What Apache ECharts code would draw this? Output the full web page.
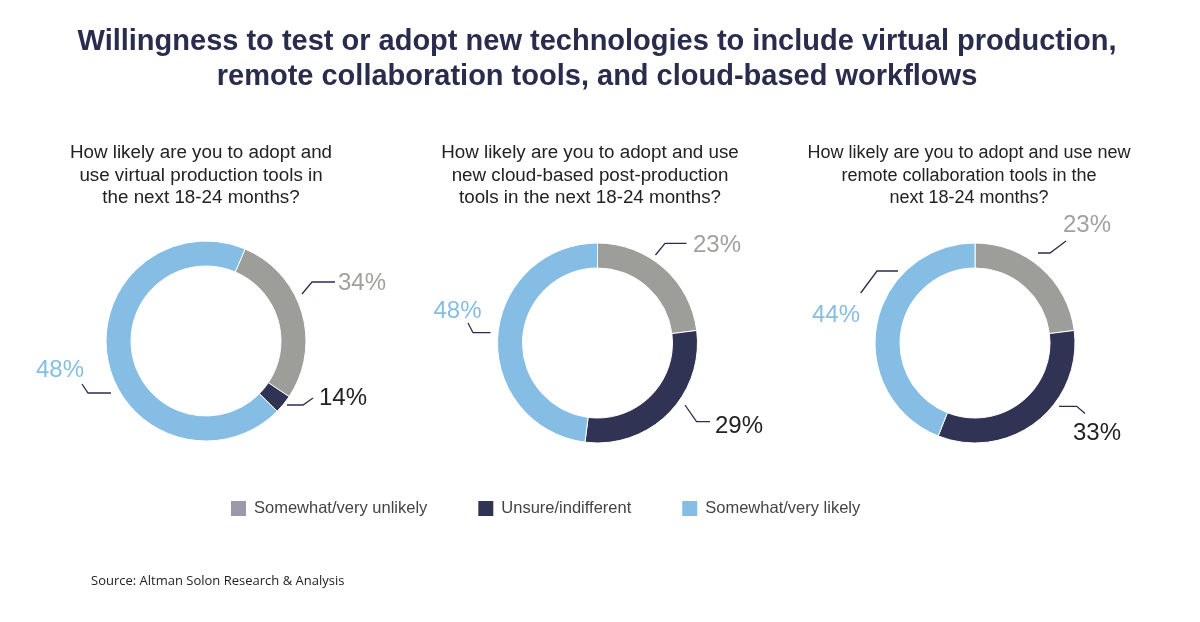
<!DOCTYPE html>
<html>
<head>
<meta charset="utf-8">
<script src="https://cdn.jsdelivr.net/npm/echarts@6/dist/echarts.min.js"></script>
<style>
  html, body { margin: 0; padding: 0; background: #ffffff; }
  #chart { width: 1200px; height: 622px; }
</style>
</head>
<body>
<div id="chart"></div>
<script>
// ---- Data ----
const categories = ['Somewhat/very unlikely', 'Unsure/indifferent', 'Somewhat/very likely'];
// Printed percentage labels
const virtualLabels = [34, 14, 48];
const cloudLabels = [23, 29, 48];
const remoteLabels = [23, 33, 44];
// Arc sizes as drawn in the picture (the first donut's drawn arcs differ from its printed labels)
const virtualArcs = [28, 3, 69];
const cloudArcs = [23, 29, 48];
const remoteArcs = [23, 33, 44];
const questions = [
  'How likely are you to adopt and\nuse virtual production tools in\nthe next 18-24 months?',
  'How likely are you to adopt and use\nnew cloud-based post-production\ntools in the next 18-24 months?',
  'How likely are you to adopt and use new\nremote collaboration tools in the\nnext 18-24 months?'
];
const titleText = 'Willingness to test or adopt new technologies to include virtual production,\nremote collaboration tools, and cloud-based workflows';
const sourceText = 'Source: Altman Solon Research & Analysis';

// ---- Styling ----
const sliceColors = ['#9d9d99', '#313354', '#86bde4'];
const legendColors = ['#9a9aa8', '#313354', '#86bde4'];
const labelColors = ['#a0a09c', '#222222', '#86bde4'];
const centers = [[206, 341], [597.5, 343], [975, 343]];
const startAngles = [67, 90, 90];

// label placement relative to each donut centre: line points and text anchor
const labelPlacement = [
  [
    { line: [[96, -47], [106, -59], [129, -59]], at: [132, -58], align: 'left' },
    { line: [[81, 64], [97, 64], [107, 57]], at: [113, 57], align: 'left' },
    { line: [[-95, 52], [-118, 52], [-124, 43]], at: [-122, 29], align: 'right' }
  ],
  [
    { line: [[58, -88], [67.5, -99.7], [89, -99.7]], at: [95.5, -98], align: 'left' },
    { line: [[87.5, 62], [99, 78.7], [112.5, 78.7]], at: [117.5, 83.7], align: 'left' },
    { line: [[-107, -10.3], [-124.5, -10.3], [-129.5, -20]], at: [-116, -31.3], align: 'right' }
  ],
  [
    { line: [[63, -90], [75, -90], [91, -102]], at: [88, -117.7], align: 'left' },
    { line: [[84, 63.3], [101.7, 63.3], [110, 70.6]], at: [98, 90.3], align: 'left' },
    { line: [[-77, -72], [-98, -72], [-114.3, -50]], at: [-115, -27.7], align: 'right' }
  ]
];

const arcsList = [virtualArcs, cloudArcs, remoteArcs];
const labelsList = [virtualLabels, cloudLabels, remoteLabels];
const questionX = [196, 585, 964];
const questionFont = [18.8, 18.8, 18];

const chart = echarts.init(document.getElementById('chart'), null, { renderer: 'canvas' });

const titles = [
  {
    text: titleText,
    left: 592, top: 19, textAlign: 'center',
    textStyle: { fontFamily: 'Liberation Sans', fontWeight: 'bold', fontSize: 29, lineHeight: 35, color: '#2a2c4e' }
  },
  {
    text: sourceText,
    left: 86, top: 570,
    textStyle: { fontFamily: 'Open Sans', fontWeight: 'normal', fontSize: 13, color: '#222222' }
  }
];
questions.forEach((q, i) => {
  titles.push({
    text: q, left: questionX[i], top: 137, textAlign: 'center',
    textStyle: { fontFamily: 'Liberation Sans', fontWeight: 'normal', fontSize: questionFont[i], lineHeight: 22.5, color: '#222222' }
  });
});

const series = arcsList.map((arcs, si) => ({
  type: 'pie',
  center: centers[si],
  radius: [75, 100],
  startAngle: startAngles[si],
  clockwise: true,
  avoidLabelOverlap: false,
  silent: true,
  itemStyle: { borderColor: '#ffffff', borderWidth: 1 },
  label: {
    show: true,
    position: 'outside',
    fontFamily: 'Liberation Sans',
    fontSize: 24,
    formatter: (p) => labelsList[si][p.dataIndex] + '%'
  },
  labelLine: { show: true, length: 10, length2: 15, lineStyle: { color: '#2b2d4f', width: 1.3 } },
  labelLayout: (params) => {
    const pl = labelPlacement[si][params.dataIndex];
    const c = centers[si];
    return {
      x: c[0] + pl.at[0],
      y: c[1] + pl.at[1],
      align: pl.align,
      verticalAlign: 'middle',
      labelLinePoints: pl.line.map(p => [c[0] + p[0], c[1] + p[1]])
    };
  },
  data: categories.map((name, i) => ({
    name: name,
    value: arcs[i],
    itemStyle: { color: sliceColors[i] },
    label: { color: labelColors[i] }
  }))
}));

chart.setOption({
  animation: false,
  backgroundColor: '#ffffff',
  title: titles,
  legend: {
    left: 224, top: 494,
    itemWidth: 17, itemHeight: 17, itemGap: 49,
    icon: 'rect',
    selectedMode: false,
    textStyle: { fontFamily: 'Liberation Sans', fontSize: 16.5, color: '#444444', padding: [0, 0, 0, 2] },
    data: categories.map((name, i) => ({ name: name, itemStyle: { color: legendColors[i] } }))
  },
  series: series
});
</script>
</body>
</html>
